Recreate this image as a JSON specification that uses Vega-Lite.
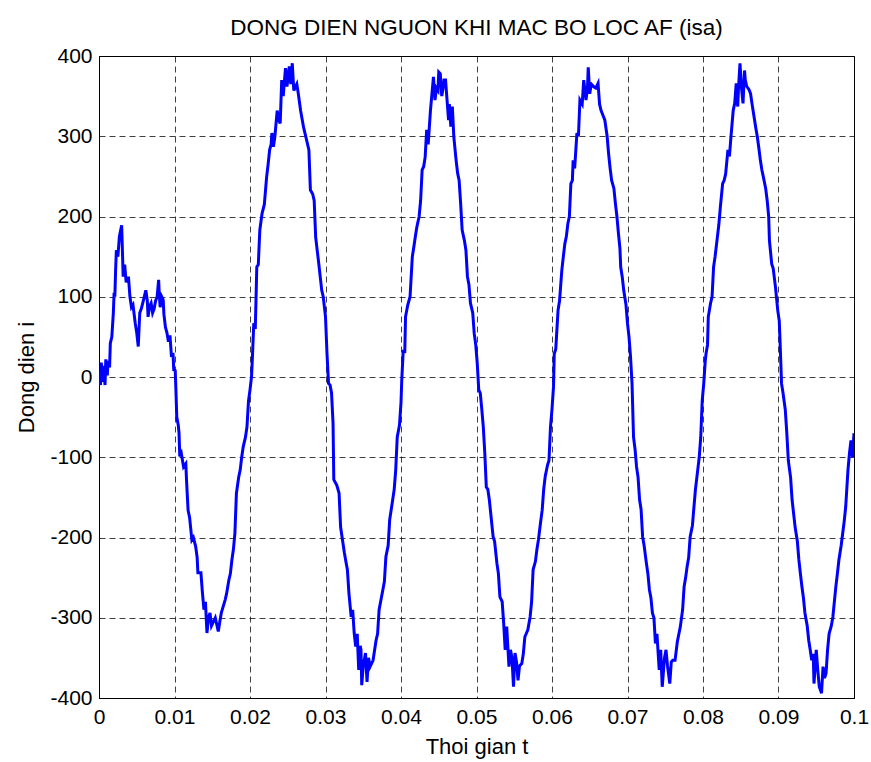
{
  "$schema": "https://vega.github.io/schema/vega-lite/v6.json",
  "width": 755,
  "height": 642,
  "autosize": {"type": "none"},
  "padding": {"left": 99, "top": 56, "right": 17, "bottom": 64},
  "background": "white",
  "config": {
    "font": "Liberation Sans",
    "view": {"stroke": "#000", "strokeWidth": 1},
    "axis": {
      "domainColor": "#000",
      "domainWidth": 1,
      "ticks": false,
      "gridColor": "#000",
      "gridOpacity": 0.75,
      "gridDash": [6, 4],
      "gridWidth": 1,
      "labelColor": "#000",
      "labelFontSize": 21,
      "titleColor": "#000",
      "titleFontSize": 22,
      "titleFontWeight": "normal"
    }
  },
  "title": {
    "text": "DONG DIEN NGUON KHI MAC BO LOC AF (isa)",
    "fontSize": 22.5,
    "fontWeight": "normal",
    "color": "#000",
    "baseline": "alphabetic",
    "offset": 19,
    "dy": 31
  },
  "data": {
    "values": [
      {"t": 0, "i": 5}, {"t": 0.0002, "i": -10}, {"t": 0.0003, "i": 18}, {"t": 0.0005, "i": -6}, {"t": 0.0006, "i": 14}, {"t": 0.0008, "i": -10}, {"t": 0.0009, "i": 22}, {"t": 0.0011, "i": 2}, {"t": 0.0012, "i": 20}, {"t": 0.0014, "i": 12},
      {"t": 0.0015, "i": 42}, {"t": 0.0017, "i": 50}, {"t": 0.0019, "i": 80}, {"t": 0.002, "i": 105}, {"t": 0.0021, "i": 100}, {"t": 0.0022, "i": 133}, {"t": 0.0023, "i": 158}, {"t": 0.0025, "i": 150}, {"t": 0.0027, "i": 175}, {"t": 0.003, "i": 189},
      {"t": 0.0031, "i": 158}, {"t": 0.0032, "i": 125}, {"t": 0.0034, "i": 140}, {"t": 0.0036, "i": 118}, {"t": 0.0039, "i": 125}, {"t": 0.0041, "i": 100}, {"t": 0.0043, "i": 87}, {"t": 0.0045, "i": 90}, {"t": 0.0048, "i": 67}, {"t": 0.005, "i": 55},
      {"t": 0.0052, "i": 38}, {"t": 0.0054, "i": 80}, {"t": 0.0056, "i": 85}, {"t": 0.0059, "i": 96}, {"t": 0.0062, "i": 108}, {"t": 0.0064, "i": 95}, {"t": 0.0065, "i": 75}, {"t": 0.0067, "i": 88}, {"t": 0.0069, "i": 92}, {"t": 0.0071, "i": 80},
      {"t": 0.0073, "i": 85}, {"t": 0.0075, "i": 95}, {"t": 0.0077, "i": 100}, {"t": 0.0079, "i": 121}, {"t": 0.008, "i": 100}, {"t": 0.0081, "i": 87}, {"t": 0.0083, "i": 100}, {"t": 0.0085, "i": 96}, {"t": 0.0086, "i": 78}, {"t": 0.0088, "i": 62},
      {"t": 0.009, "i": 55}, {"t": 0.0092, "i": 44}, {"t": 0.0094, "i": 52}, {"t": 0.0096, "i": 25}, {"t": 0.0098, "i": 30}, {"t": 0.0099, "i": 9}, {"t": 0.0101, "i": 8}, {"t": 0.0102, "i": -20}, {"t": 0.0103, "i": -50}, {"t": 0.0105, "i": -60},
      {"t": 0.0106, "i": -70}, {"t": 0.0107, "i": -99}, {"t": 0.0109, "i": -95}, {"t": 0.0112, "i": -112}, {"t": 0.0115, "i": -108}, {"t": 0.0116, "i": -130}, {"t": 0.0118, "i": -166}, {"t": 0.012, "i": -175}, {"t": 0.0123, "i": -203}, {"t": 0.0125, "i": -200},
      {"t": 0.0128, "i": -211}, {"t": 0.013, "i": -225}, {"t": 0.0131, "i": -244}, {"t": 0.0135, "i": -244}, {"t": 0.0137, "i": -269}, {"t": 0.0139, "i": -290}, {"t": 0.0141, "i": -280}, {"t": 0.0143, "i": -319}, {"t": 0.0145, "i": -300}, {"t": 0.0147, "i": -294},
      {"t": 0.0149, "i": -310}, {"t": 0.0151, "i": -306}, {"t": 0.0154, "i": -300}, {"t": 0.0158, "i": -317}, {"t": 0.016, "i": -305}, {"t": 0.0162, "i": -294}, {"t": 0.0167, "i": -278}, {"t": 0.0169, "i": -270}, {"t": 0.0172, "i": -253}, {"t": 0.0174, "i": -245},
      {"t": 0.0176, "i": -228}, {"t": 0.0178, "i": -215}, {"t": 0.018, "i": -195}, {"t": 0.0182, "i": -145}, {"t": 0.0185, "i": -125}, {"t": 0.0187, "i": -116}, {"t": 0.0189, "i": -100}, {"t": 0.0191, "i": -87}, {"t": 0.0194, "i": -75}, {"t": 0.0196, "i": -62},
      {"t": 0.0198, "i": -30}, {"t": 0.02, "i": -16}, {"t": 0.0202, "i": 0},
      {"t": 0.0203, "i": 20}, {"t": 0.0205, "i": 67}, {"t": 0.0207, "i": 60}, {"t": 0.0209, "i": 137}, {"t": 0.0211, "i": 140}, {"t": 0.0213, "i": 183}, {"t": 0.0216, "i": 204}, {"t": 0.0219, "i": 215}, {"t": 0.0222, "i": 249}, {"t": 0.0224, "i": 265},
      {"t": 0.0226, "i": 283}, {"t": 0.0228, "i": 290}, {"t": 0.0229, "i": 304}, {"t": 0.0231, "i": 287}, {"t": 0.0233, "i": 300}, {"t": 0.0236, "i": 332}, {"t": 0.0238, "i": 320}, {"t": 0.024, "i": 316}, {"t": 0.0242, "i": 370}, {"t": 0.0244, "i": 350},
      {"t": 0.0247, "i": 385}, {"t": 0.0249, "i": 362}, {"t": 0.0252, "i": 387}, {"t": 0.0254, "i": 365}, {"t": 0.0256, "i": 391}, {"t": 0.0258, "i": 357}, {"t": 0.0262, "i": 365}, {"t": 0.0264, "i": 353}, {"t": 0.0267, "i": 332}, {"t": 0.0271, "i": 311},
      {"t": 0.0275, "i": 295}, {"t": 0.0278, "i": 283}, {"t": 0.028, "i": 233}, {"t": 0.0283, "i": 228}, {"t": 0.0285, "i": 220}, {"t": 0.0287, "i": 174}, {"t": 0.0291, "i": 142}, {"t": 0.0293, "i": 125}, {"t": 0.0295, "i": 108}, {"t": 0.0297, "i": 100},
      {"t": 0.03, "i": 75}, {"t": 0.0302, "i": 29}, {"t": 0.0304, "i": -8},
      {"t": 0.0306, "i": -10}, {"t": 0.0308, "i": -20}, {"t": 0.031, "i": -58}, {"t": 0.0311, "i": -128}, {"t": 0.0315, "i": -135}, {"t": 0.0318, "i": -145}, {"t": 0.032, "i": -187}, {"t": 0.0325, "i": -219}, {"t": 0.0327, "i": -230}, {"t": 0.0329, "i": -240},
      {"t": 0.0331, "i": -269}, {"t": 0.0334, "i": -299}, {"t": 0.0336, "i": -290}, {"t": 0.0338, "i": -319}, {"t": 0.034, "i": -336}, {"t": 0.0342, "i": -320}, {"t": 0.0344, "i": -365}, {"t": 0.0346, "i": -335}, {"t": 0.0347, "i": -340}, {"t": 0.0348, "i": -384},
      {"t": 0.035, "i": -360}, {"t": 0.0353, "i": -344}, {"t": 0.0355, "i": -380}, {"t": 0.0357, "i": -350}, {"t": 0.0359, "i": -361}, {"t": 0.0363, "i": -353}, {"t": 0.0367, "i": -328}, {"t": 0.0369, "i": -320}, {"t": 0.0371, "i": -290}, {"t": 0.0376, "i": -265},
      {"t": 0.0378, "i": -255}, {"t": 0.038, "i": -224}, {"t": 0.0383, "i": -210}, {"t": 0.0385, "i": -178}, {"t": 0.0389, "i": -153}, {"t": 0.0391, "i": -140}, {"t": 0.0393, "i": -116}, {"t": 0.0395, "i": -75}, {"t": 0.0398, "i": -60}, {"t": 0.04, "i": -32},
      {"t": 0.0401, "i": -4},
      {"t": 0.0403, "i": 34}, {"t": 0.0405, "i": 30}, {"t": 0.0406, "i": 75}, {"t": 0.0409, "i": 90}, {"t": 0.0412, "i": 100}, {"t": 0.0415, "i": 150}, {"t": 0.0417, "i": 162}, {"t": 0.0419, "i": 175}, {"t": 0.0421, "i": 187}, {"t": 0.0424, "i": 200},
      {"t": 0.0426, "i": 220}, {"t": 0.0428, "i": 258}, {"t": 0.043, "i": 262}, {"t": 0.0432, "i": 274}, {"t": 0.0434, "i": 308}, {"t": 0.0436, "i": 290}, {"t": 0.0439, "i": 332}, {"t": 0.0441, "i": 353}, {"t": 0.0443, "i": 374}, {"t": 0.0445, "i": 345},
      {"t": 0.0447, "i": 360}, {"t": 0.0449, "i": 357}, {"t": 0.045, "i": 380}, {"t": 0.0452, "i": 378}, {"t": 0.0454, "i": 350}, {"t": 0.0456, "i": 362}, {"t": 0.0457, "i": 370}, {"t": 0.0459, "i": 370}, {"t": 0.0461, "i": 345}, {"t": 0.0463, "i": 320},
      {"t": 0.0464, "i": 340}, {"t": 0.0466, "i": 312}, {"t": 0.0468, "i": 337}, {"t": 0.047, "i": 299}, {"t": 0.0473, "i": 270}, {"t": 0.0475, "i": 254}, {"t": 0.0477, "i": 245}, {"t": 0.0479, "i": 216}, {"t": 0.0481, "i": 183}, {"t": 0.0484, "i": 170},
      {"t": 0.0486, "i": 158}, {"t": 0.0488, "i": 125}, {"t": 0.049, "i": 115}, {"t": 0.0492, "i": 92}, {"t": 0.0495, "i": 80}, {"t": 0.0497, "i": 54}, {"t": 0.0499, "i": 40}, {"t": 0.0501, "i": 17}, {"t": 0.0503, "i": -16},
      {"t": 0.0505, "i": -20}, {"t": 0.0507, "i": -40}, {"t": 0.0509, "i": -62}, {"t": 0.0511, "i": -95}, {"t": 0.0513, "i": -137}, {"t": 0.0515, "i": -140}, {"t": 0.0517, "i": -153}, {"t": 0.0522, "i": -199}, {"t": 0.0524, "i": -205}, {"t": 0.0527, "i": -232},
      {"t": 0.0529, "i": -245}, {"t": 0.0531, "i": -274}, {"t": 0.0534, "i": -280}, {"t": 0.0536, "i": -307}, {"t": 0.0538, "i": -340}, {"t": 0.054, "i": -311}, {"t": 0.0543, "i": -361}, {"t": 0.0545, "i": -340}, {"t": 0.0547, "i": -350}, {"t": 0.0549, "i": -386},
      {"t": 0.0551, "i": -344}, {"t": 0.0553, "i": -355}, {"t": 0.0555, "i": -378}, {"t": 0.0557, "i": -360}, {"t": 0.056, "i": -357}, {"t": 0.0562, "i": -345}, {"t": 0.0564, "i": -324}, {"t": 0.0568, "i": -315}, {"t": 0.0571, "i": -299}, {"t": 0.0573, "i": -280},
      {"t": 0.0575, "i": -240}, {"t": 0.0578, "i": -230}, {"t": 0.058, "i": -215}, {"t": 0.0582, "i": -203}, {"t": 0.0585, "i": -180}, {"t": 0.0587, "i": -166}, {"t": 0.0589, "i": -140}, {"t": 0.0591, "i": -124}, {"t": 0.0594, "i": -110}, {"t": 0.0596, "i": -104},
      {"t": 0.0598, "i": -62}, {"t": 0.06, "i": -40}, {"t": 0.0602, "i": -12},
      {"t": 0.0603, "i": 29}, {"t": 0.0605, "i": 35}, {"t": 0.0608, "i": 83}, {"t": 0.061, "i": 95}, {"t": 0.0613, "i": 133}, {"t": 0.0615, "i": 150}, {"t": 0.0617, "i": 166}, {"t": 0.0619, "i": 175}, {"t": 0.0621, "i": 191}, {"t": 0.0623, "i": 200},
      {"t": 0.0625, "i": 241}, {"t": 0.0627, "i": 245}, {"t": 0.0628, "i": 270}, {"t": 0.063, "i": 260}, {"t": 0.0633, "i": 304}, {"t": 0.0635, "i": 300}, {"t": 0.0637, "i": 345}, {"t": 0.064, "i": 340}, {"t": 0.0642, "i": 370}, {"t": 0.0644, "i": 355},
      {"t": 0.0645, "i": 345}, {"t": 0.0647, "i": 360}, {"t": 0.0648, "i": 386}, {"t": 0.065, "i": 353}, {"t": 0.0652, "i": 365}, {"t": 0.0655, "i": 362}, {"t": 0.0658, "i": 360}, {"t": 0.0661, "i": 366}, {"t": 0.0663, "i": 340}, {"t": 0.0665, "i": 332},
      {"t": 0.0668, "i": 325}, {"t": 0.067, "i": 320}, {"t": 0.0673, "i": 300}, {"t": 0.0675, "i": 278}, {"t": 0.0677, "i": 260}, {"t": 0.0679, "i": 245}, {"t": 0.0682, "i": 235}, {"t": 0.0684, "i": 216}, {"t": 0.0686, "i": 200}, {"t": 0.0688, "i": 179},
      {"t": 0.069, "i": 160}, {"t": 0.0691, "i": 137}, {"t": 0.0693, "i": 125}, {"t": 0.0695, "i": 108}, {"t": 0.0698, "i": 90}, {"t": 0.07, "i": 67}, {"t": 0.0702, "i": 50}, {"t": 0.0704, "i": 25}, {"t": 0.0706, "i": -8},
      {"t": 0.0708, "i": -75}, {"t": 0.071, "i": -90}, {"t": 0.0712, "i": -112}, {"t": 0.0714, "i": -125}, {"t": 0.0716, "i": -153}, {"t": 0.0718, "i": -165}, {"t": 0.072, "i": -199}, {"t": 0.0722, "i": -210}, {"t": 0.0725, "i": -232}, {"t": 0.0727, "i": -245},
      {"t": 0.0729, "i": -265}, {"t": 0.0731, "i": -275}, {"t": 0.0733, "i": -294}, {"t": 0.0735, "i": -300}, {"t": 0.0737, "i": -332}, {"t": 0.0739, "i": -320}, {"t": 0.0742, "i": -365}, {"t": 0.0744, "i": -340}, {"t": 0.0746, "i": -386}, {"t": 0.0749, "i": -350},
      {"t": 0.0751, "i": -340}, {"t": 0.0753, "i": -360}, {"t": 0.0756, "i": -382}, {"t": 0.0758, "i": -355}, {"t": 0.076, "i": -353}, {"t": 0.0763, "i": -353}, {"t": 0.0766, "i": -330}, {"t": 0.077, "i": -311}, {"t": 0.0773, "i": -290}, {"t": 0.0775, "i": -261},
      {"t": 0.0777, "i": -250}, {"t": 0.0779, "i": -236}, {"t": 0.0781, "i": -225}, {"t": 0.0783, "i": -199}, {"t": 0.0786, "i": -185}, {"t": 0.0788, "i": -162}, {"t": 0.079, "i": -140}, {"t": 0.0793, "i": -116}, {"t": 0.0795, "i": -100}, {"t": 0.0797, "i": -75},
      {"t": 0.0799, "i": -29}, {"t": 0.0801, "i": -8},
      {"t": 0.0803, "i": 20}, {"t": 0.0804, "i": 29}, {"t": 0.0806, "i": 40}, {"t": 0.0807, "i": 75}, {"t": 0.081, "i": 92}, {"t": 0.0812, "i": 100}, {"t": 0.0814, "i": 137}, {"t": 0.0816, "i": 150}, {"t": 0.0819, "i": 174}, {"t": 0.0821, "i": 190},
      {"t": 0.0823, "i": 212}, {"t": 0.0826, "i": 241}, {"t": 0.0828, "i": 245}, {"t": 0.083, "i": 253}, {"t": 0.0833, "i": 283}, {"t": 0.0835, "i": 275}, {"t": 0.0837, "i": 299}, {"t": 0.084, "i": 332}, {"t": 0.0842, "i": 341}, {"t": 0.0844, "i": 366},
      {"t": 0.0846, "i": 337}, {"t": 0.0847, "i": 360}, {"t": 0.0849, "i": 391}, {"t": 0.0851, "i": 360}, {"t": 0.0853, "i": 341}, {"t": 0.0855, "i": 382}, {"t": 0.0856, "i": 370}, {"t": 0.0858, "i": 362}, {"t": 0.0861, "i": 358}, {"t": 0.0863, "i": 353},
      {"t": 0.0865, "i": 340}, {"t": 0.0867, "i": 328}, {"t": 0.087, "i": 310}, {"t": 0.0872, "i": 299}, {"t": 0.0874, "i": 285}, {"t": 0.0876, "i": 270}, {"t": 0.0878, "i": 258}, {"t": 0.088, "i": 249}, {"t": 0.0883, "i": 235}, {"t": 0.0885, "i": 220},
      {"t": 0.0887, "i": 200}, {"t": 0.0888, "i": 170}, {"t": 0.0891, "i": 141}, {"t": 0.0893, "i": 135}, {"t": 0.0896, "i": 112}, {"t": 0.0899, "i": 83}, {"t": 0.0901, "i": 70}, {"t": 0.0902, "i": 46}, {"t": 0.0904, "i": -8},
      {"t": 0.0906, "i": -20}, {"t": 0.0909, "i": -41}, {"t": 0.0911, "i": -70}, {"t": 0.0913, "i": -104}, {"t": 0.0916, "i": -125}, {"t": 0.0918, "i": -153}, {"t": 0.092, "i": -170}, {"t": 0.0922, "i": -187}, {"t": 0.0925, "i": -205}, {"t": 0.0927, "i": -228},
      {"t": 0.0929, "i": -245}, {"t": 0.0931, "i": -261}, {"t": 0.0933, "i": -275}, {"t": 0.0935, "i": -294}, {"t": 0.0938, "i": -310}, {"t": 0.094, "i": -328}, {"t": 0.0942, "i": -340}, {"t": 0.0944, "i": -353}, {"t": 0.0946, "i": -345}, {"t": 0.0947, "i": -382},
      {"t": 0.095, "i": -340}, {"t": 0.0952, "i": -365}, {"t": 0.0954, "i": -386}, {"t": 0.0957, "i": -394}, {"t": 0.0959, "i": -361}, {"t": 0.0961, "i": -375}, {"t": 0.0963, "i": -369}, {"t": 0.0965, "i": -340}, {"t": 0.0967, "i": -320}, {"t": 0.097, "i": -310},
      {"t": 0.0972, "i": -299}, {"t": 0.0974, "i": -280}, {"t": 0.0976, "i": -261}, {"t": 0.0978, "i": -245}, {"t": 0.098, "i": -228}, {"t": 0.0983, "i": -210}, {"t": 0.0985, "i": -195}, {"t": 0.0987, "i": -180}, {"t": 0.0989, "i": -162}, {"t": 0.0992, "i": -116},
      {"t": 0.0994, "i": -95}, {"t": 0.0996, "i": -79}, {"t": 0.0998, "i": -100}, {"t": 0.1, "i": -70}
    ]
  },
  "mark": {"type": "line", "color": "#0000ff", "strokeWidth": 3, "strokeJoin": "miter", "clip": true},
  "encoding": {
    "x": {
      "field": "t",
      "type": "quantitative",
      "scale": {"domain": [0, 0.1], "nice": false, "zero": false},
      "axis": {
        "title": "Thoi gian t",
        "values": [0, 0.01, 0.02, 0.03, 0.04, 0.05, 0.06, 0.07, 0.08, 0.09, 0.1],
        "labelExpr": "'' + datum.value",
        "labelPadding": 8,
        "titlePadding": 9,
        "labelFlush": false,
        "labelOverlap": false
      }
    },
    "y": {
      "field": "i",
      "type": "quantitative",
      "scale": {"domain": [-400, 400], "nice": false},
      "axis": {
        "title": "Dong dien i",
        "values": [-400, -300, -200, -100, 0, 100, 200, 300, 400],
        "labelExpr": "'' + datum.value",
        "labelPadding": 7,
        "titlePadding": 11,
        "labelFlush": false,
        "labelOverlap": false
      }
    }
  }
}
